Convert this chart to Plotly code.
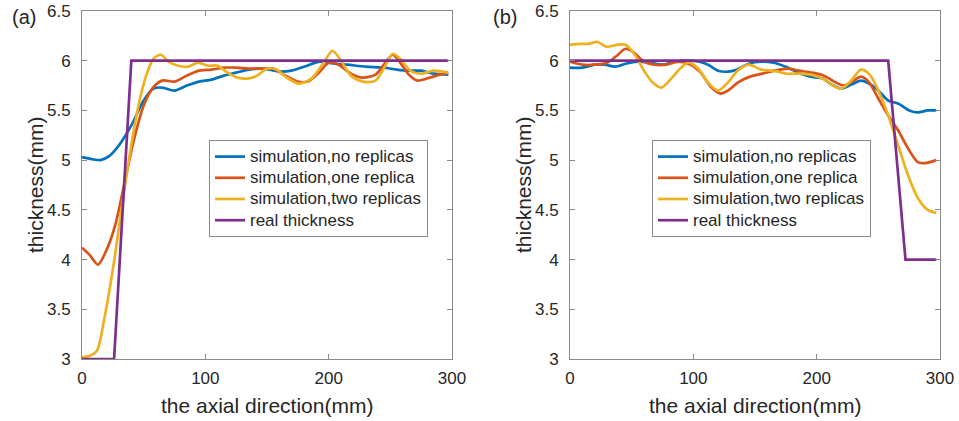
import plotly.graph_objects as go

# ---------- data ----------
labels = ["simulation,no replicas", "simulation,one replica",
          "simulation,two replicas", "real thickness"]
colors = ["#0072BD", "#D95319", "#EDB120", "#7E2F8E"]

# panel (a)
a_blue_x = [0, 8, 15, 22, 30, 40, 50, 58, 65, 75, 85, 95, 105, 115, 125, 135, 145, 152, 160, 170,
            180, 193, 205, 215, 230, 245, 255, 265, 275, 285, 297]
a_blue_y = [5.03, 5.01, 5.0, 5.04, 5.15, 5.35, 5.6, 5.72, 5.73, 5.70, 5.75, 5.79, 5.81, 5.85, 5.88,
            5.91, 5.92, 5.91, 5.89, 5.90, 5.94, 5.99, 5.97, 5.96, 5.94, 5.93, 5.91, 5.90, 5.90, 5.87, 5.86]
a_red_x = [0, 6, 13, 20, 27, 35, 42, 50, 57, 65, 75, 85, 95, 105, 115, 125, 135, 145, 155, 165, 175,
           183, 192, 200, 208, 218, 227, 238, 246, 252, 258, 265, 272, 282, 290, 297]
a_red_y = [4.12, 4.05, 3.95, 4.1, 4.35, 4.8, 5.2, 5.55, 5.72, 5.80, 5.79, 5.85, 5.90, 5.91, 5.93,
           5.93, 5.92, 5.92, 5.92, 5.85, 5.79, 5.79, 5.88, 5.98, 5.96, 5.87, 5.83, 5.86, 5.98, 6.06,
           5.98, 5.86, 5.80, 5.83, 5.86, 5.88]
a_yel_x = [0, 6, 12, 18, 25, 32, 38, 45, 52, 58, 64, 70, 78, 86, 94, 102, 110, 118, 126, 134, 142,
           150, 158, 166, 176, 186, 196, 203, 210, 218, 228, 238, 246, 252, 258, 266, 275, 285, 297]
a_yel_y = [3.02, 3.03, 3.08, 3.4, 3.9, 4.5, 5.0, 5.5, 5.85, 6.02, 6.06, 5.99, 5.95, 5.94, 5.98,
           5.95, 5.95, 5.88, 5.83, 5.82, 5.85, 5.92, 5.91, 5.83, 5.77, 5.82, 5.98, 6.10, 6.0, 5.85,
           5.79, 5.80, 5.95, 6.07, 6.02, 5.90, 5.87, 5.90, 5.88]
a_real_x = [0, 26, 40, 297]
a_real_y = [3, 3, 6, 6]

# panel (b)
b_blue_x = [0, 10, 20, 28, 37, 45, 55, 65, 75, 85, 95, 105, 112, 120, 128, 135, 145, 155, 165, 175,
            185, 195, 205, 212, 220, 228, 236, 244, 250, 258, 266, 275, 282, 290, 297]
b_blue_y = [5.93, 5.93, 5.96, 5.96, 5.94, 5.97, 5.99, 5.98, 5.96, 5.99, 6.0, 5.99, 5.96, 5.90, 5.89,
            5.91, 5.97, 5.99, 5.98, 5.94, 5.88, 5.84, 5.82, 5.76, 5.72, 5.76, 5.80, 5.76, 5.70, 5.60,
            5.57, 5.50, 5.48, 5.50, 5.50]
b_red_x = [0, 10, 20, 30, 38, 45, 52, 60, 68, 78, 88, 98, 106, 114, 122, 128, 136, 146, 156, 166,
           176, 186, 196, 206, 214, 222, 230, 236, 242, 250, 258, 266, 274, 282, 288, 297]
b_red_y = [5.99, 5.96, 5.96, 5.98, 6.05, 6.12, 6.08, 5.99, 5.96, 5.96, 5.99, 5.96, 5.88, 5.74, 5.67,
           5.70, 5.78, 5.84, 5.87, 5.90, 5.92, 5.90, 5.88, 5.85, 5.79, 5.75, 5.80, 5.84, 5.79, 5.62,
           5.45, 5.30, 5.12, 4.98, 4.97, 5.00]
b_yel_x = [0, 8, 15, 22, 30, 38, 45, 52, 60, 67, 74, 82, 90, 96, 104, 112, 120, 128, 136, 145, 155,
           165, 175, 185, 195, 205, 212, 220, 228, 236, 243, 250, 258, 266, 274, 282, 290, 297]
b_yel_y = [6.16, 6.17, 6.17, 6.19, 6.14, 6.16, 6.16, 6.07, 5.90, 5.78, 5.73, 5.82, 5.93, 5.98, 5.92,
           5.78, 5.70, 5.78, 5.90, 5.96, 5.91, 5.90, 5.87, 5.87, 5.86, 5.82, 5.76, 5.72, 5.80, 5.91,
           5.86, 5.70, 5.45, 5.15, 4.85, 4.62, 4.50, 4.47]
b_real_x = [0, 258, 272, 297]
b_real_y = [6, 6, 4, 4]

x_ticks = [0, 100, 200, 300]
y_ticks = [3, 3.5, 4, 4.5, 5, 5.5, 6, 6.5]
y_tick_text = ["3", "3.5", "4", "4.5", "5", "5.5", "6", "6.5"]
panel_labels = ["(a)", "(b)"]
x_title = "the axial direction(mm)"
y_title = "thickness(mm)"

# ---------- figure ----------
FONT = "Liberation Sans, Arial, sans-serif"
fig = go.Figure()

panels = [
    ([(a_blue_x, a_blue_y), (a_red_x, a_red_y), (a_yel_x, a_yel_y), (a_real_x, a_real_y)], "x", "y", "legend"),
    ([(b_blue_x, b_blue_y), (b_red_x, b_red_y), (b_yel_x, b_yel_y), (b_real_x, b_real_y)], "x2", "y2", "legend2"),
]
for series, xa, ya, lg in panels:
    for i, (xs, ys) in enumerate(series):
        fig.add_trace(go.Scatter(
            x=xs, y=ys, mode="lines",
            name="<span style='font-size:17px'>" + labels[i] + "</span>",
            line=dict(color=colors[i], width=2.7,
                      shape="linear" if i == 3 else "spline", smoothing=0.8),
            xaxis=xa, yaxis=ya, legend=lg, showlegend=True,
        ))

axis_common = dict(showline=True, linecolor="#8a8a8a", linewidth=1, mirror="ticks",
                   ticks="inside", ticklen=5, tickcolor="#8a8a8a", showgrid=False,
                   zeroline=False, automargin=False,
                   tickfont=dict(family=FONT, size=17, color="#262626"))

dom_y = [1 - 359 / 421, 1 - 11 / 421]
leg_common = dict(xanchor="left", yanchor="top", bgcolor="white", bordercolor="#8a8a8a",
                  borderwidth=1, font=dict(family=FONT, size=14, color="#262626"),
                  tracegroupgap=0)
fig.update_layout(
    width=959, height=421, margin=dict(l=0, r=0, t=0, b=0, pad=0), autosize=False,
    paper_bgcolor="white", plot_bgcolor="white",
    font=dict(family=FONT, color="#262626"),
    xaxis=dict(domain=[82 / 959, 452 / 959], range=[0, 300], tickvals=x_ticks, anchor="y",
               ticklabelstandoff=4, **axis_common),
    yaxis=dict(domain=dom_y, range=[3, 6.5], tickvals=y_ticks, ticktext=y_tick_text, anchor="x",
               ticklabelstandoff=7, **axis_common),
    xaxis2=dict(domain=[570 / 959, 940 / 959], range=[0, 300], tickvals=x_ticks, anchor="y2",
                ticklabelstandoff=4, **axis_common),
    yaxis2=dict(domain=dom_y, range=[3, 6.5], tickvals=y_ticks, ticktext=y_tick_text, anchor="x2",
                ticklabelstandoff=7, **axis_common),
    legend=dict(x=209 / 959, y=1 - 140 / 421, **leg_common),
    legend2=dict(x=652 / 959, y=1 - 140 / 421, **leg_common),
    showlegend=True,
)

ann = []
for k, (cx, lx) in enumerate([(267, 24), (755, 505)]):
    ann.append(dict(text=x_title, x=cx / 959, y=1 - 405 / 421, xref="paper", yref="paper",
                    showarrow=False, xanchor="center", yanchor="middle",
                    font=dict(family=FONT, size=21, color="#262626")))
    ann.append(dict(text=panel_labels[k], x=lx / 959, y=1 - 17 / 421, xref="paper", yref="paper",
                    showarrow=False, xanchor="center", yanchor="middle",
                    font=dict(family=FONT, size=20, color="#262626")))
for cx in [35, 523]:
    ann.append(dict(text=y_title, x=cx / 959, y=1 - 185 / 421, xref="paper", yref="paper",
                    showarrow=False, xanchor="center", yanchor="middle", textangle=-90,
                    font=dict(family=FONT, size=21, color="#262626")))
fig.update_layout(annotations=ann)

fig.write_html("out.html")
